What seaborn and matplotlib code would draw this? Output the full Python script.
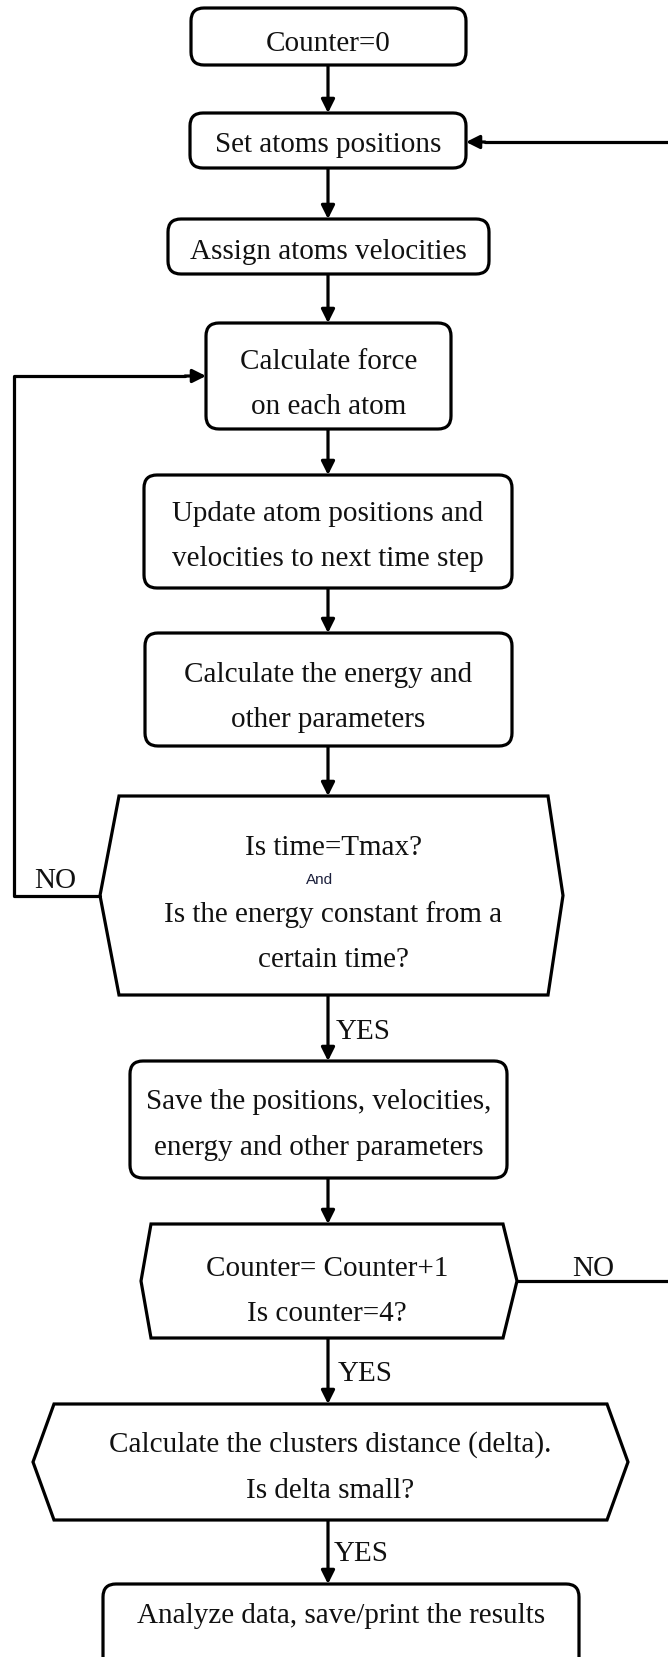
import numpy as np
import seaborn as sns
import matplotlib.pyplot as plt
from matplotlib.patches import FancyBboxPatch, Polygon

sns.set_theme(style="white")
plt.rcParams['font.family'] = ['Liberation Serif', 'DejaVu Serif']

# process boxes (rounded rectangles)
box_labels = [["Counter=0"],
              ["Set atoms positions"],
              ["Assign atoms velocities"],
              ["Calculate force", "on each atom"],
              ["Update atom positions and", "velocities to next time step"],
              ["Calculate the energy and", "other parameters"],
              ["Save the positions, velocities,", "energy and other parameters"],
              ["Analyze data, save/print the results"]]
box_left = [191, 190, 168, 206, 144, 145, 130, 103]
box_right = [466, 466, 489, 451, 512, 512, 507, 579]
box_top = [9, 114, 220, 324, 476, 634, 1062, 1585]
box_bottom = [66, 169, 275, 430, 589, 747, 1179, 1672]
box_line_y = [[41], [142], [249], [359, 404], [511, 556], [672, 717],
              [1099, 1145], [1613]]

# decision boxes (hexagons)
hex_labels = [["Is time=Tmax?", "Is the energy constant from a", "certain time?"],
              ["Counter= Counter+1", "Is counter=4?"],
              ["Calculate the clusters distance (delta).", "Is delta small?"]]
hex_left = [119, 151, 54]
hex_left_tip = [100, 141, 33]
hex_right = [548, 503, 607]
hex_right_tip = [563, 517, 628]
hex_top = [797, 1225, 1405]
hex_bottom = [996, 1339, 1521]
hex_line_y = [[845, 912, 957], [1266, 1311], [1442, 1488]]

# branch labels
branch_labels = ["NO", "YES", "NO", "YES", "YES"]
branch_x = [55, 336, 593, 338, 334]
branch_y = [878, 1029, 1266, 1371, 1551]
branch_ha = ["center", "left", "center", "left", "left"]

cx = 328
lw = 2.3
fs = 21
dy = 3  # va="center" sits a little high for this font

fig = plt.figure(figsize=(6.68, 16.58), dpi=100)
ax = fig.add_axes([0, 0, 1, 1])
ax.set_xlim(0, 668)
ax.set_ylim(1658, 0)
ax.axis("off")

for lines, l, r, t, b, ys in zip(box_labels, box_left, box_right, box_top,
                                 box_bottom, box_line_y):
    ax.add_patch(FancyBboxPatch((l, t), r - l, b - t,
                                boxstyle="round,pad=0,rounding_size=13",
                                fc="white", ec="black", lw=lw, zorder=2))
    for txt, y in zip(lines, ys):
        ax.text((l + r) / 2, y + dy, txt, ha="center", va="center",
                fontsize=fs, zorder=3, color="#111111")

for lines, l, lt, r, rt, t, b, ys in zip(hex_labels, hex_left, hex_left_tip,
                                         hex_right, hex_right_tip, hex_top,
                                         hex_bottom, hex_line_y):
    m = (t + b) / 2
    pts = [(l, t), (r, t), (rt, m), (r, b), (l, b), (lt, m)]
    ax.add_patch(Polygon(pts, closed=True, fc="white", ec="black", lw=lw,
                         joinstyle="miter", zorder=2))
    for txt, y in zip(lines, ys):
        ax.text((l + r) / 2, y + dy, txt, ha="center", va="center",
                fontsize=fs, zorder=3, color="#111111")

# small "And" between the two questions
ax.text(320, 880, "And", ha="center", va="center", fontsize=11,
        family=["Liberation Sans", "DejaVu Sans"], color="#1b1f3b", zorder=3)

# straight down arrows between consecutive shapes
starts = [66, 169, 275, 430, 589, 747, 996, 1179, 1339, 1521]
ends = [114, 220, 324, 476, 634, 797, 1062, 1225, 1405, 1585]
arrow_kw = dict(arrowstyle="-|>", lw=lw, color="black", mutation_scale=20,
                shrinkA=0, shrinkB=0)
for s, e in zip(starts, ends):
    ax.annotate("", xy=(cx, e), xytext=(cx, s), arrowprops=arrow_kw, zorder=1)

# loop back lines
loop_no1_x = [100, 14, 14, 185]
loop_no1_y = [896.5, 896.5, 377, 377]
loop_no2_x = [517, 672, 672, 485]
loop_no2_y = [1282, 1282, 143, 143]
sns.lineplot(x=loop_no1_x, y=loop_no1_y, sort=False, estimator=None,
             color="black", lw=lw, ax=ax)
sns.lineplot(x=loop_no2_x, y=loop_no2_y, sort=False, estimator=None,
             color="black", lw=lw, ax=ax)
ax.annotate("", xy=(206, 377), xytext=(185, 377), arrowprops=arrow_kw)
ax.annotate("", xy=(466, 143), xytext=(485, 143), arrowprops=arrow_kw)
ax.set_xlim(0, 668)
ax.set_ylim(1658, 0)

for lab, x, y, ha in zip(branch_labels, branch_x, branch_y, branch_ha):
    ax.text(x, y + dy, lab, ha=ha, va="center", fontsize=fs, color="#111111")

plt.savefig("out.png", dpi=100)
